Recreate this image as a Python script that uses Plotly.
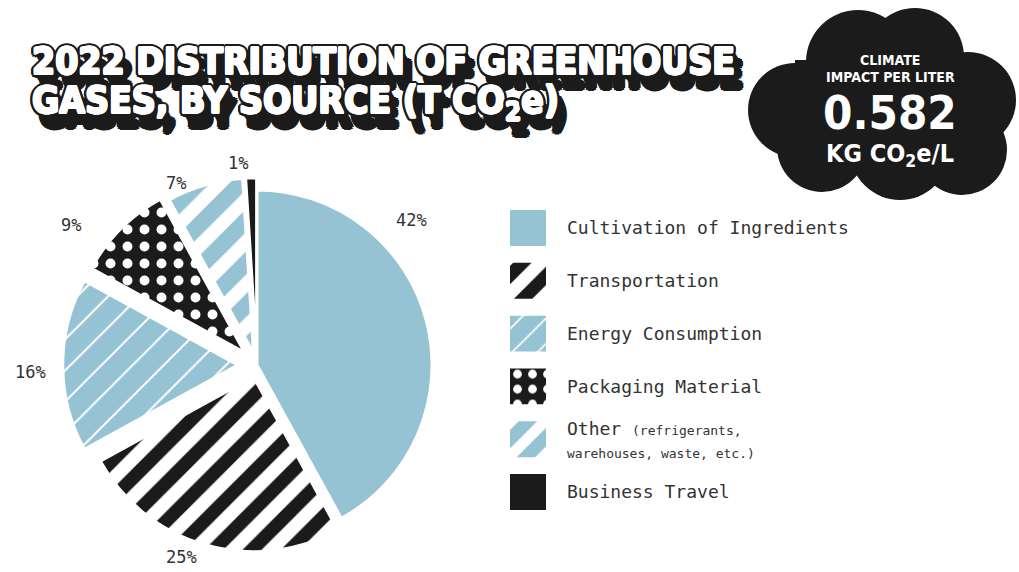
import math
import plotly.graph_objects as go

W, H = 1019, 572

# ---- data -------------------------------------------------------------
sources = [
    "Cultivation of Ingredients",
    "Transportation",
    "Energy Consumption",
    "Packaging Material",
    "Other (refrigerants, warehouses, waste, etc.)",
    "Business Travel",
]
shares = [42, 25, 16, 9, 7, 1]
impact_per_liter = "0.582"

# ---- styling ----------------------------------------------------------
BLUE = "#95c3d3"
INK = "#1b1b1b"
WHITE = "#ffffff"
TEXT = "#333333"

fill_colors = [BLUE, WHITE, BLUE, INK, WHITE, INK]
pat_shape = ["", "/", "/", ".", "/", ""]
pat_bg = [BLUE, WHITE, BLUE, INK, WHITE, INK]
pat_fg = [BLUE, INK, WHITE, WHITE, BLUE, INK]
pat_size = [10, 27, 22, 17, 30, 10]
pat_solid = [0.3, 0.5, 0.09, 0.27, 0.55, 0.3]
swatch_size = [10, 26, 18, 15, 24, 10]
pulls = [0, 0.07, 0.11, 0.1, 0.07, 0.07]

# where each percentage label sits: fraction along its slice, distance out
label_frac = [0.31, 0.56, 0.47, 0.25, 0.19, -0.5]
label_dist = [212, 206, 227, 233, 199, 203]

TITLE_FONT = "DejaVu Sans Condensed, Liberation Sans Narrow, Roboto Condensed, Inter, sans-serif"
MONO = "DejaVu Sans Mono"


def px_x(x):
    return x / W


def px_y(y):
    return 1 - y / H


fig = go.Figure()

# ---- pie --------------------------------------------------------------
cx, cy, r = 257, 365, 175
half = r * (1 + max(pulls))
fig.add_trace(go.Pie(
    labels=sources,
    values=shares,
    sort=False,
    direction="clockwise",
    rotation=0,
    pull=pulls,
    automargin=False,
    marker=dict(
        colors=fill_colors,
        line=dict(color=WHITE, width=3),
        pattern=dict(shape=pat_shape, bgcolor=pat_bg, fgcolor=pat_fg,
                     size=pat_size, solidity=pat_solid, fillmode="replace"),
    ),
    textinfo="none",
    hoverinfo="label+percent",
    showlegend=False,
    domain=dict(x=[px_x(cx - half), px_x(cx + half)],
                y=[px_y(cy + half), px_y(cy - half)]),
))

# percentage labels around the pie, placed from the cumulative shares
total = sum(shares)
start = 0.0
for v, frac, dist in zip(shares, label_frac, label_dist):
    span = 360.0 * v / total
    ang = math.radians(start + frac * span)
    lx = cx + dist * math.sin(ang)
    ly = cy - dist * math.cos(ang)
    fig.add_annotation(
        x=px_x(lx), y=px_y(ly), xref="paper", yref="paper",
        xanchor="center", yanchor="middle", showarrow=False,
        text=f"{round(100 * v / total)}%",
        font=dict(family=MONO, size=17, color=TEXT),
    )
    start += span

# ---- legend swatches: one bar per source, carrying that slice's fill ----
for i, name in enumerate(sources):
    fig.add_trace(go.Bar(
        y=[name],
        x=[1],
        orientation="h",
        marker=dict(
            color=fill_colors[i],
            line=dict(width=0),
            pattern=dict(shape=pat_shape[i], bgcolor=pat_bg[i],
                         fgcolor=pat_fg[i], size=swatch_size[i],
                         solidity=pat_solid[i], fillmode="replace"),
        ),
        hoverinfo="skip",
        showlegend=False,
    ))

band_top, band_bot = 201.6, 518.4
fig.update_layout(
    width=W, height=H,
    margin=dict(l=0, r=0, t=0, b=0, autoexpand=False),
    paper_bgcolor=WHITE,
    plot_bgcolor="rgba(0,0,0,0)",
    barmode="overlay",
    bargap=0.32,
    xaxis=dict(domain=[px_x(510), px_x(546)], range=[0, 1], visible=False,
               fixedrange=True, automargin=False),
    yaxis=dict(domain=[px_y(band_bot), px_y(band_top)], visible=False,
               categoryorder="array", categoryarray=sources,
               autorange="reversed", fixedrange=True, automargin=False),
)

# legend labels
legend_text = [
    "Cultivation of Ingredients",
    "Transportation",
    "Energy Consumption",
    "Packaging Material",
    "Other <span style='font-size:13px'>(refrigerants,</span><br>"
    "<span style='font-size:13px'>warehouses, waste, etc.)</span>",
    "Business Travel",
]
band = (band_bot - band_top) / len(sources)
for i, txt in enumerate(legend_text):
    yc = band_top + band * (i + 0.5)
    fig.add_annotation(
        x=px_x(565), y=px_y(yc), xref="paper", yref="paper",
        xanchor="left", yanchor="middle", align="left",
        text=txt, showarrow=False,
        font=dict(family=MONO, size=18, color=TEXT),
    )

# ---- headline: fattened white letters, dark outline, extruded shadow ----
def ring(rad, steps=16):
    return [(rad * math.cos(2 * math.pi * k / steps),
             rad * math.sin(2 * math.pi * k / steps)) for k in range(steps)]


shadow_parts = [f"{dx:.1f}px {dy:.1f}px 0 {WHITE}" for dx, dy in ring(1.0, 8)]
shadow_parts += [f"{dx:.1f}px {dy:.1f}px 0 {INK}" for dx, dy in ring(3.5)]
for t in range(1, 15):
    shadow_parts.append(f"{t * 0.55:.1f}px {t:.1f}px 0 {INK}")
shadow_parts += [f"{7.7 + dx:.1f}px {14 + dy:.1f}px 0 {INK}"
                 for dx, dy in ring(3.0, 8)]
title_shadow = ", ".join(shadow_parts)

title_lines = ["2022 DISTRIBUTION OF GREENHOUSE",
               "GASES, BY SOURCE (T CO<sub>2</sub>e)"]
for line, yc in zip(title_lines, [61, 103]):
    fig.add_annotation(
        x=px_x(30), y=px_y(yc), xref="paper", yref="paper",
        xanchor="left", yanchor="middle", text=line, showarrow=False,
        font=dict(family=TITLE_FONT, size=37, color=WHITE, weight=700,
                  shadow=title_shadow),
    )

# ---- cloud badge --------------------------------------------------------
cloud = [
    (795, 110, 47), (858, 62, 52), (915, 57, 49), (968, 100, 48),
    (962, 150, 45), (900, 150, 50), (822, 147, 45),
]
for x0, y0, rr in cloud:
    fig.add_shape(type="circle", xref="paper", yref="paper",
                  x0=px_x(x0 - rr), x1=px_x(x0 + rr),
                  y0=px_y(y0 + rr), y1=px_y(y0 - rr),
                  fillcolor=INK, line=dict(width=0), layer="above")
fig.add_shape(type="rect", xref="paper", yref="paper",
              x0=px_x(795), x1=px_x(968), y0=px_y(165), y1=px_y(60),
              fillcolor=INK, line=dict(width=0), layer="above")

badge = [
    ("CLIMATE", 60, 14),
    ("IMPACT PER LITER", 77, 14),
    (impact_per_liter, 112, 47),
    ("KG CO<sub>2</sub>e/L", 155, 25),
]
for txt, yc, sz in badge:
    fig.add_annotation(
        x=px_x(890), y=px_y(yc), xref="paper", yref="paper",
        xanchor="center", yanchor="middle", text=txt, showarrow=False,
        font=dict(family=TITLE_FONT, size=sz, color=WHITE, weight=700),
    )

fig.write_html("out.html")
